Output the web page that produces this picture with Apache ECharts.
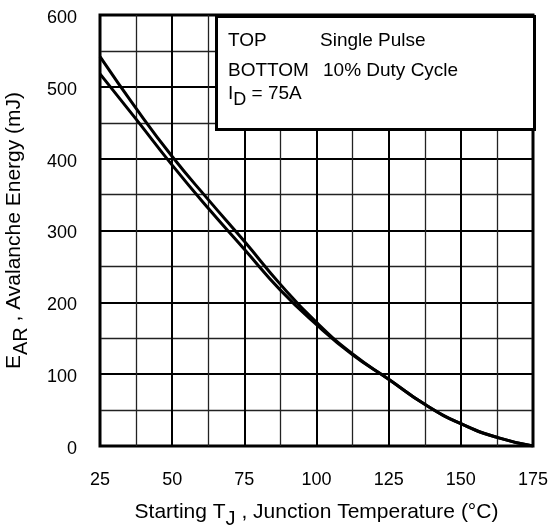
<!DOCTYPE html>
<html>
<head>
<meta charset="utf-8">
<script src="https://cdn.jsdelivr.net/npm/echarts@6/dist/echarts.min.js"></script>
<style>
html,body{margin:0;padding:0;background:#fff;}
#chart{width:549px;height:529px;}
</style>
</head>
<body>
<div id="chart"></div>
<script>
// Starting junction temperature (°C)
const temps = [25, 37.5, 50, 62.5, 75, 87.5, 100, 112.5, 125, 137.5, 150, 162.5, 175];
// TOP: Single Pulse (mJ)
const singlePulse = [542, 470, 403, 343, 285, 225, 172, 128, 93, 58, 31, 12, 0];
// BOTTOM: 10% Duty Cycle (mJ)
const dutyCycle10 = [518, 455, 391, 331, 274, 217, 169, 127, 93, 58, 31, 12, 0];
const xTicks = [25, 50, 75, 100, 125, 150, 175];
const yTicks = [0, 100, 200, 300, 400, 500, 600];

const FONT = 'Liberation Sans, Arial, Helvetica, sans-serif';
const chart = echarts.init(document.getElementById('chart'));

function pairs(xs, ys){ return xs.map((x,i)=>[x, ys[i]]); }

function subRich(size){
  return {
    n: {fontSize: size, fontFamily: FONT, color: '#000', verticalAlign: 'top'},
    s: {fontSize: size - 1, fontFamily: FONT, color: '#000', lineHeight: size + 6, verticalAlign: 'bottom'}
  };
}

chart.setOption({
  animation: false,
  backgroundColor: '#fff',
  grid: {left: 100, right: 16, top: 15, bottom: 83, containLabel: false, outerBoundsMode: 'none',
    show: true, borderColor: '#000', borderWidth: 3, backgroundColor: 'transparent'},
  xAxis: {
    type: 'value', min: xTicks[0], max: xTicks[xTicks.length-1], interval: 25,
    axisLine: {show: false}, axisTick: {show: false},
    axisLabel: {color: '#000', fontSize: 18, fontFamily: FONT, margin: 25,
      formatter: v => xTicks.includes(v) ? String(v) : ''},
    splitLine: {show: true, lineStyle: {color: '#000', width: 2}},
    minorTick: {show: false, splitNumber: 2},
    minorSplitLine: {show: true, lineStyle: {color: '#222', width: 1.3}},
    name: '{n|Starting T}{s|J}{n| , Junction Temperature (°C)}',
    nameLocation: 'middle', nameGap: 56,
    nameTextStyle: {rich: subRich(21)}
  },
  yAxis: {
    type: 'value', min: yTicks[0], max: yTicks[yTicks.length-1], interval: 100,
    axisLine: {show: false}, axisTick: {show: false},
    axisLabel: {color: '#000', fontSize: 18, fontFamily: FONT, margin: 23,
      verticalAlign: 'top', lineHeight: 6,
      formatter: v => yTicks.includes(v) ? String(v) : ''},
    splitLine: {show: true, lineStyle: {color: '#000', width: 2}},
    minorTick: {show: false, splitNumber: 2},
    minorSplitLine: {show: true, lineStyle: {color: '#222', width: 1.3}},
    name: '{n|E}{s|AR}{n| , Avalanche Energy (mJ)}',
    nameLocation: 'middle', nameGap: 69,
    nameTextStyle: {rich: subRich(21)}
  },
  series: [
    {type: 'line', name: 'Single Pulse', data: pairs(temps, singlePulse), smooth: 0.5, showSymbol: false,
     lineStyle: {color: '#000', width: 3}, z: 5},
    {type: 'line', name: '10% Duty Cycle', data: pairs(temps, dutyCycle10), smooth: 0.5, showSymbol: false,
     lineStyle: {color: '#000', width: 3}, z: 5}
  ],
  graphic: [
    {type: 'rect', left: 215, top: 15, z: 100,
     shape: {width: 318, height: 113},
     style: {fill: '#fff', stroke: '#000', lineWidth: 3}},
    {type: 'text', left: 228, top: 31, z: 101, style: {text: 'TOP', font: '19px ' + FONT, fill: '#000'}},
    {type: 'text', left: 320, top: 31, z: 101, style: {text: 'Single Pulse', font: '19px ' + FONT, fill: '#000'}},
    {type: 'text', left: 228, top: 61, z: 101, style: {text: 'BOTTOM', font: '19px ' + FONT, fill: '#000'}},
    {type: 'text', left: 323, top: 61, z: 101, style: {text: '10% Duty Cycle', font: '19px ' + FONT, fill: '#000'}},
    {type: 'text', left: 228, top: 84, z: 101, style: {text: '{n|I}{s|D}{n| = 75A}', rich: subRich(19)}}
  ]
});
</script>
</body>
</html>
